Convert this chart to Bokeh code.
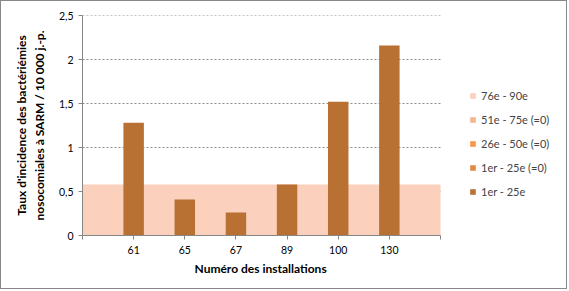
from bokeh.plotting import figure
from bokeh.models import (ColumnDataSource, Legend, LegendItem, FixedTicker,
                          CustomJSTickFormatter, Range1d, Title)
from bokeh.embed import file_html
from bokeh.resources import INLINE

# ---- data ----
installations = ["61", "65", "67", "89", "100", "130"]
taux = [1.28, 0.41, 0.26, 0.58, 1.52, 2.16]
band_76_90 = 0.58
legend_labels = ["76e - 90e", "51e - 75e (=0)", "26e - 50e (=0)", "1er - 25e (=0)", "1er - 25e"]
legend_colors = ["#FBD0BC", "#F8B593", "#F79646", "#E08A48", "#B87033"]
y_ticks = [0, 0.5, 1, 1.5, 2, 2.5]
x_title = "Numéro des installations"
y_title = "Taux d'incidence des bactériémies\nnosocomiales à SARM / 10 000 j.-p."

FONT = "Lato"
GREY = "#868686"

x_pos = list(range(1, len(installations) + 1))
n_slots = len(installations) + 1

# frame extends under the legend; axis/grid are limited to the category area
FRAME_W = 567 - 81
SLOT_PX = 358 / n_slots
x_end = FRAME_W / SLOT_PX

p = figure(width=567, height=289, output_backend="svg", toolbar_location=None,
           x_range=Range1d(0, x_end), y_range=Range1d(0, 2.5),
           min_border_left=81, min_border_top=14, min_border_bottom=55,
           min_border_right=0)
p.styles = {"border": "1px solid #888888"}
p.outline_line_color = None
p.background_fill_color = "white"
p.border_fill_color = "white"

# horizontal dotted grid lines limited to the category area (drawn first)
grid_src = ColumnDataSource(dict(x0=[0] * 5, x1=[n_slots] * 5, y=y_ticks[1:]))
p.segment(x0="x0", y0="y", x1="x1", y1="y", source=grid_src,
          line_color="#8c8c8c", line_width=1.2, line_dash="2 2")

# band (76e-90e), covers the grid below it
band_src = ColumnDataSource(dict(x=[0, n_slots], y1=[0, 0], y2=[band_76_90, band_76_90]))
r_band = p.varea(x="x", y1="y1", y2="y2", source=band_src, fill_color=legend_colors[0])

# zero-valued series (shown in legend only)
zero = ColumnDataSource(dict(x=[1], top=[0]))
r_zero = []
for c in legend_colors[1:4]:
    r_zero.append(p.vbar(x="x", top="top", width=0.4, source=zero, fill_color=c, line_color=None))

src = ColumnDataSource(dict(x=x_pos, top=taux))
r_bar = p.vbar(x="x", top="top", width=0.4, source=src, fill_color=legend_colors[4], line_color=None)

# axes
p.xaxis.ticker = FixedTicker(ticks=list(range(0, n_slots + 1)))
p.xaxis.bounds = (0, n_slots)
p.xaxis.formatter = CustomJSTickFormatter(
    code="const labs = %r; return (tick >= 1 && tick <= labs.length) ? labs[tick-1] : '';" % installations)
p.yaxis.ticker = FixedTicker(ticks=y_ticks)
p.yaxis.formatter = CustomJSTickFormatter(code="return tick.toString().replace('.', ',');")
p.yaxis.axis_label = y_title

for ax in (p.xaxis[0], p.yaxis[0]):
    ax.axis_line_color = GREY
    ax.major_tick_line_color = GREY
    ax.minor_tick_line_color = None
    ax.major_tick_in = 0
    ax.major_tick_out = 4
    ax.major_label_text_font = FONT
    ax.major_label_text_font_size = "10.5px"
    ax.major_label_text_color = "black"
    ax.axis_label_text_font = FONT
    ax.axis_label_text_font_size = "12px"
    ax.axis_label_text_font_style = "bold"
    ax.axis_label_text_color = "black"
p.xaxis.major_label_standoff = 6
p.yaxis.major_label_standoff = 5
p.yaxis.axis_label_standoff = 9

xt = Title(text=x_title, align="left", offset=112, text_font=FONT,
           text_font_size="12px", text_font_style="bold", text_color="black",
           standoff=4)
p.add_layout(xt, "below")

p.xgrid.grid_line_color = None
p.ygrid.grid_line_color = None

items = [LegendItem(label=legend_labels[0], renderers=[r_band])]
for lab, r in zip(legend_labels[1:4], r_zero):
    items.append(LegendItem(label=lab, renderers=[r]))
items.append(LegendItem(label=legend_labels[4], renderers=[r_bar]))
legend = Legend(items=items, border_line_color=None, background_fill_alpha=0,
                glyph_width=7, glyph_height=7, label_text_font=FONT,
                label_text_font_size="11px", spacing=9, label_standoff=5,
                margin=0, padding=0, label_height=15,
                location=(387, 36))
p.add_layout(legend, "center")

open("out.html", "w").write(file_html(p, INLINE))
